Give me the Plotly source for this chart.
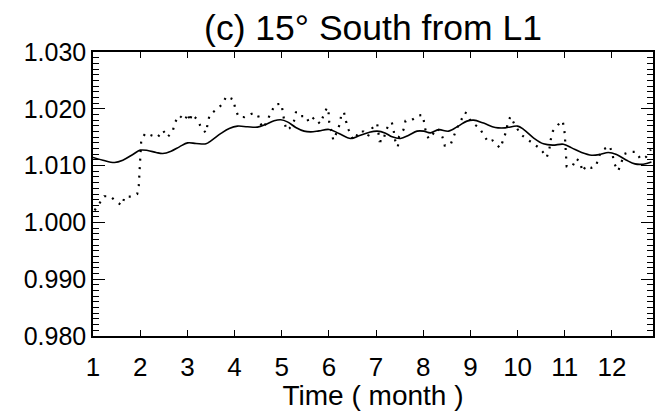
import plotly.graph_objects as go

# Smooth (solid) curve
smooth_x = [1.00, 1.21, 1.457, 1.632, 1.844, 2.00, 2.16, 2.338, 2.478, 2.655, 2.831, 3.006, 3.184, 3.395,
            3.50, 3.712, 3.888, 4.063, 4.275, 4.486, 4.664, 4.839, 4.981, 5.12, 5.298, 5.474, 5.615, 5.791,
            6.003, 6.214, 6.461, 6.637, 6.848, 7.023, 7.201, 7.34, 7.518, 7.693, 7.869, 8.01, 8.152, 8.328,
            8.539, 8.751, 8.926, 9.068, 9.279, 9.526, 9.738, 10.0, 10.125, 10.336, 10.548, 10.744, 10.97,
            11.146, 11.357, 11.569, 11.746, 11.922, 12.097, 12.309, 12.486, 12.662, 12.837]
smooth_y = [1.01143, 1.01095, 1.01055, 1.01095, 1.01196, 1.01272, 1.01266, 1.01231, 1.01213, 1.01254, 1.0133,
            1.0140, 1.0139, 1.01383, 1.01436, 1.01566, 1.01654, 1.01695, 1.01683, 1.01677, 1.01725, 1.01788,
            1.01806, 1.0177, 1.01672, 1.01607, 1.01594, 1.01612, 1.01637, 1.01566, 1.01478, 1.01524, 1.01584,
            1.01607, 1.01571, 1.01506, 1.01478, 1.01536, 1.01607, 1.01607, 1.01577, 1.01633, 1.01607, 1.0170,
            1.01783, 1.0180, 1.01748, 1.01672, 1.01665, 1.01695, 1.01637, 1.01489, 1.01383, 1.0136, 1.01377,
            1.01312, 1.01231, 1.01183, 1.01196, 1.01231, 1.01196, 1.01095, 1.0103, 1.01025, 1.01065]

# Observed (dotted) series
obs_x = [1.034, 1.14, 1.239, 1.366, 1.484, 1.611, 1.674, 1.801, 1.937, 1.970, 1.979, 1.985, 1.992, 2.00, 2.021,
         2.042, 2.112, 2.245, 2.366, 2.486, 2.577, 2.689, 2.732, 2.825, 2.951, 3.006, 3.057, 3.091, 3.218, 3.296,
         3.395, 3.429, 3.471, 3.613, 3.746, 3.825, 3.972, 4.015, 4.085, 4.211, 4.359, 4.495, 4.543, 4.613, 4.698,
         4.782, 4.86, 4.994, 5.023, 5.057, 5.099, 5.163, 5.262, 5.304, 5.395, 5.522, 5.573, 5.691, 5.812, 5.882,
         5.96, 5.996, 6.008, 6.059, 6.093, 6.165, 6.228, 6.262, 6.319, 6.362, 6.419, 6.488, 6.558, 6.622, 6.736,
         6.827, 6.918, 7.023, 7.074, 7.159, 7.192, 7.271, 7.334, 7.376, 7.404, 7.461, 7.488, 7.581, 7.624, 7.763,
         7.899, 7.99, 8.017, 8.059, 8.116, 8.307, 8.406, 8.455, 8.575, 8.638, 8.708, 8.799, 8.877, 8.926, 9.004,
         9.104, 9.188, 9.273, 9.378, 9.469, 9.56, 9.632, 9.696, 9.759, 9.793, 9.85, 9.941, 10.068, 10.182, 10.321,
         10.427, 10.526, 10.617, 10.674, 10.702, 10.748, 10.865, 10.955, 10.991, 11.006, 11.019, 11.028, 11.04,
         11.161, 11.245, 11.33, 11.372, 11.45, 11.562, 11.668, 11.71, 11.816, 11.949, 12.013, 12.042, 12.133,
         12.197, 12.266, 12.387, 12.514, 12.605, 12.725, 12.824]
obs_y = [1.00213, 1.00331, 1.0046, 1.0046, 1.00372, 1.0030, 1.00455, 1.00455, 1.0050, 1.00642, 1.0080, 1.00954,
         1.01113, 1.01272, 1.01425, 1.01483, 1.01571, 1.01531, 1.01496, 1.01619, 1.0150, 1.0160, 1.01753, 1.01884,
         1.01796, 1.01919, 1.01778, 1.01906, 1.01806, 1.0166, 1.01577, 1.0173, 1.01889, 1.01989, 1.02083, 1.02219,
         1.02166, 1.02007, 1.01859, 1.01854, 1.01912, 1.01901, 1.01748, 1.0166, 1.018, 1.01942, 1.02078, 1.02088,
         1.01936, 1.01771, 1.01624, 1.01654, 1.01789, 1.01947, 1.01871, 1.01871, 1.0176, 1.01848, 1.01735,
         1.01877, 1.02025, 1.01912, 1.0176, 1.01594, 1.01448, 1.01584, 1.01725, 1.01889, 1.01942, 1.01783, 1.0163,
         1.01496, 1.01453, 1.016, 1.016, 1.01513, 1.0166, 1.01743, 1.0143, 1.0143, 1.01584, 1.01725, 1.0176, 1.016,
         1.01448, 1.0133, 1.01513, 1.0163, 1.01789, 1.01806, 1.01884, 1.01889, 1.0173, 1.01577, 1.01471, 1.01654,
         1.01506, 1.01354, 1.0136, 1.01506, 1.01647, 1.01789, 1.01936, 1.01919, 1.01783, 1.01713, 1.01672,
         1.01548, 1.01413, 1.01443, 1.01372, 1.01307, 1.01453, 1.01607, 1.0176, 1.01866, 1.01718, 1.01548,
         1.01478, 1.01395, 1.0133, 1.01249, 1.01143, 1.01295, 1.01457, 1.01607, 1.01725, 1.01789, 1.0163, 1.01466,
         1.01312, 1.01148, 1.00984, 1.00984, 1.01125, 1.01055, 1.00896, 1.00995, 1.0096, 1.00995, 1.01148,
         1.01284, 1.01347, 1.01201, 1.01048, 1.00907, 1.01055, 1.01207, 1.01242, 1.01242, 1.01113, 1.01153,
         1.01284]

x_ticks = list(range(1, 13))
y_ticks = [0.980, 0.990, 1.000, 1.010, 1.020, 1.030]

FONT = "Liberation Sans, Arial, sans-serif"

fig = go.Figure()
fig.add_trace(go.Scatter(x=obs_x, y=obs_y, mode="lines",
                         line=dict(color="black", width=2.2, dash="2px,6.5px"),
                         showlegend=False))
fig.add_trace(go.Scatter(x=smooth_x, y=smooth_y, mode="lines",
                         line=dict(color="black", width=1.6, shape="spline"),
                         showlegend=False))

fig.update_layout(
    width=656, height=411,
    margin=dict(l=93, r=1, t=52, b=75),
    paper_bgcolor="white", plot_bgcolor="white",
    font=dict(family=FONT, color="black", size=26),
    title=dict(text="(c) 15° South from L1", x=0.5, xref="paper", xanchor="center",
               y=1 - 28 / 411, yref="container", yanchor="middle",
               font=dict(family=FONT, size=35.5, color="black")),
    xaxis=dict(range=[1, 12.87], tickvals=x_ticks, ticktext=[str(v) for v in x_ticks],
               ticks="inside", ticklen=6, tickwidth=1.2, tickcolor="black",
               showline=True, linecolor="black", linewidth=1.5, mirror="ticks",
               showgrid=False, zeroline=False, ticklabelstandoff=7,
               tickfont=dict(size=26),
               title=dict(text="Time ( month )", font=dict(size=28), standoff=0)),
    yaxis=dict(range=[0.980, 1.030], tickvals=y_ticks, ticktext=[f"{v:.3f}" for v in y_ticks],
               ticks="inside", ticklen=12, tickwidth=1.2, tickcolor="black",
               showline=True, linecolor="black", linewidth=1.5, mirror="ticks",
               showgrid=False, zeroline=False,
               tickfont=dict(size=25),
               minor=dict(ticks="inside", dtick=0.001, tick0=0.98, ticklen=6, tickwidth=1, tickcolor="black",
                          showgrid=False)),
)

fig.write_html("out.html")
